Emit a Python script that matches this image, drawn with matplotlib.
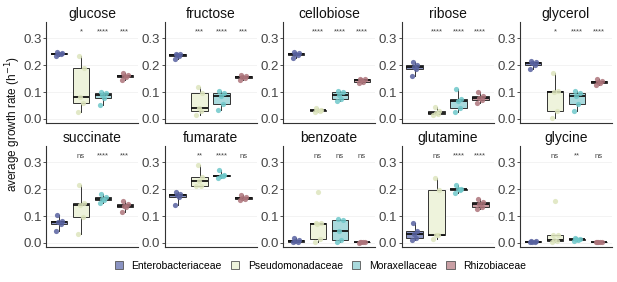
import matplotlib
matplotlib.use("Agg")
import matplotlib.pyplot as plt
from matplotlib.patches import Patch

plt.rcParams['font.family'] = ['Liberation Sans', 'DejaVu Sans']

families = ["Enterobacteriaceae", "Pseudomonadaceae", "Moraxellaceae", "Rhizobiaceae"]
substrates = ["glucose", "fructose", "cellobiose", "ribose", "glycerol",
              "succinate", "fumarate", "benzoate", "glutamine", "glycine"]

# box stats per substrate, per family: (whislo, q1, med, q3, whishi)
stats = {
    "glucose":    [(0.235, 0.240, 0.242, 0.245, 0.248), (0.027, 0.060, 0.080, 0.189, 0.232),
                   (0.050, 0.078, 0.090, 0.098, 0.100), (0.145, 0.155, 0.160, 0.165, 0.170)],
    "fructose":   [(0.222, 0.232, 0.236, 0.240, 0.243), (0.015, 0.030, 0.040, 0.095, 0.120),
                   (0.035, 0.055, 0.085, 0.098, 0.105), (0.145, 0.152, 0.157, 0.160, 0.165)],
    "cellobiose": [(0.228, 0.237, 0.240, 0.245, 0.250), (0.025, 0.028, 0.032, 0.035, 0.040),
                   (0.065, 0.075, 0.090, 0.100, 0.105), (0.132, 0.138, 0.143, 0.148, 0.150)],
    "ribose":     [(0.160, 0.185, 0.193, 0.200, 0.212), (0.015, 0.018, 0.022, 0.028, 0.045),
                   (0.025, 0.040, 0.065, 0.075, 0.110), (0.060, 0.070, 0.078, 0.085, 0.100)],
    "glycerol":   [(0.185, 0.200, 0.207, 0.212, 0.215), (0.005, 0.028, 0.100, 0.105, 0.170),
                   (0.030, 0.055, 0.085, 0.095, 0.105), (0.125, 0.132, 0.137, 0.140, 0.150)],
    "succinate":  [(0.045, 0.072, 0.076, 0.080, 0.105), (0.035, 0.095, 0.140, 0.150, 0.215),
                   (0.150, 0.158, 0.163, 0.170, 0.180), (0.115, 0.132, 0.138, 0.145, 0.155)],
    "fumarate":   [(0.140, 0.172, 0.177, 0.182, 0.190), (0.210, 0.212, 0.230, 0.245, 0.290),
                   (0.240, 0.248, 0.250, 0.253, 0.270), (0.158, 0.163, 0.167, 0.170, 0.178)],
    "benzoate":   [(0.002, 0.005, 0.008, 0.010, 0.020), (0.005, 0.015, 0.072, 0.075, 0.075),
                   (0.002, 0.010, 0.045, 0.085, 0.090), (0.001, 0.002, 0.002, 0.003, 0.003)],
    "glutamine":  [(0.010, 0.020, 0.033, 0.045, 0.075), (0.015, 0.028, 0.030, 0.195, 0.240),
                   (0.185, 0.198, 0.200, 0.202, 0.215), (0.125, 0.135, 0.143, 0.152, 0.165)],
    "glycine":    [(0.003, 0.004, 0.005, 0.006, 0.007), (0.005, 0.008, 0.012, 0.030, 0.030),
                   (0.008, 0.010, 0.013, 0.015, 0.020), (0.002, 0.003, 0.004, 0.005, 0.005)],
}
outliers = {
    "benzoate": [[], [0.190], [], []],
    "glycine":  [[], [0.155], [], []],
}
signif = {
    "glucose": ["*", "****", "***"], "fructose": ["***", "****", "***"],
    "cellobiose": ["****", "****", "****"], "ribose": ["****", "****", "****"],
    "glycerol": ["*", "****", "****"], "succinate": ["ns", "****", "***"],
    "fumarate": ["**", "****", "ns"], "benzoate": ["ns", "ns", "ns"],
    "glutamine": ["ns", "****", "****"], "glycine": ["ns", "**", "ns"],
}

box_fill = ["#8a93c2", "#eef3dc", "#a9dadd", "#c99fa4"]
pt_col = ["#5862a0", "#dde5bd", "#6ec8ca", "#ad747b"]
jit = [-0.14, 0.07, -0.04, 0.13, -0.09, 0.02]

W, H = 617, 282
fig = plt.figure(figsize=(W / 100, H / 100), dpi=100)

lefts = [46 + i * 118.5 for i in range(5)]
pw = 92
rows_top = [22, 146]
ph = 101

for k, sub in enumerate(substrates):
    r, c = divmod(k, 5)
    ax = fig.add_axes([lefts[c] / W, 1 - (rows_top[r] + ph) / H, pw / W, ph / H])
    bx = []
    for j, s in enumerate(stats[sub]):
        bx.append(dict(whislo=s[0], q1=s[1], med=s[2], q3=s[3], whishi=s[4], fliers=[]))
    bp = ax.bxp(bx, positions=[1, 2, 3, 4], widths=0.75, patch_artist=True,
                showfliers=False,
                boxprops=dict(linewidth=0.7, edgecolor="#333333"),
                whiskerprops=dict(linewidth=0.7, color="#333333"),
                capprops=dict(linewidth=0),
                medianprops=dict(linewidth=1.3, color="#111111"),
                zorder=2)
    for j, patch in enumerate(bp["boxes"]):
        patch.set_facecolor(box_fill[j])
    for j, s in enumerate(stats[sub]):
        pts = list(s) + outliers.get(sub, [[], [], [], []])[j]
        xs = [j + 1 + jit[i % len(jit)] for i in range(len(pts))]
        ax.scatter(xs, pts, s=14, color=pt_col[j], alpha=0.85, zorder=3, linewidths=0)
    for j, lab in enumerate(signif[sub]):
        ax.text(j + 2, 0.322, lab, ha="center", va="center", fontsize=5.5, color="#444444")
    ax.set_xlim(0.4, 4.6)
    ax.set_ylim(-0.015, 0.36)
    ax.set_yticks([0.0, 0.1, 0.2, 0.3])
    ax.set_yticklabels(["0.0", "0.1", "0.2", "0.3"])
    ax.set_xticks([])
    ax.grid(axis="y", color="#eeeeee", linewidth=0.5)
    ax.set_axisbelow(True)
    for sp in ["top", "right"]:
        ax.spines[sp].set_visible(False)
    for sp in ["left", "bottom"]:
        ax.spines[sp].set_color("#333333")
        ax.spines[sp].set_linewidth(0.8)
    ax.tick_params(axis="y", length=2, width=0.6, pad=1, labelsize=9.5, colors="#333333",
                   labelcolor="#444444")
    ax.set_title(sub, fontsize=10, pad=3, color="#111111")

fig.text(0.022, 0.56, "average growth rate (h$^{-1}$)", rotation=90, ha="center", va="center",
         fontsize=8.5, color="#111111")

handles = [Patch(facecolor=box_fill[j], edgecolor="#555555", linewidth=0.6) for j in range(4)]
fig.legend(handles, families, loc="center", bbox_to_anchor=(0.519, 1 - 266 / H), ncol=4,
           frameon=False, fontsize=7.5, handlelength=0.8, handleheight=0.8,
           columnspacing=0.9, handletextpad=0.8)

fig.savefig("out.png", dpi=100)
